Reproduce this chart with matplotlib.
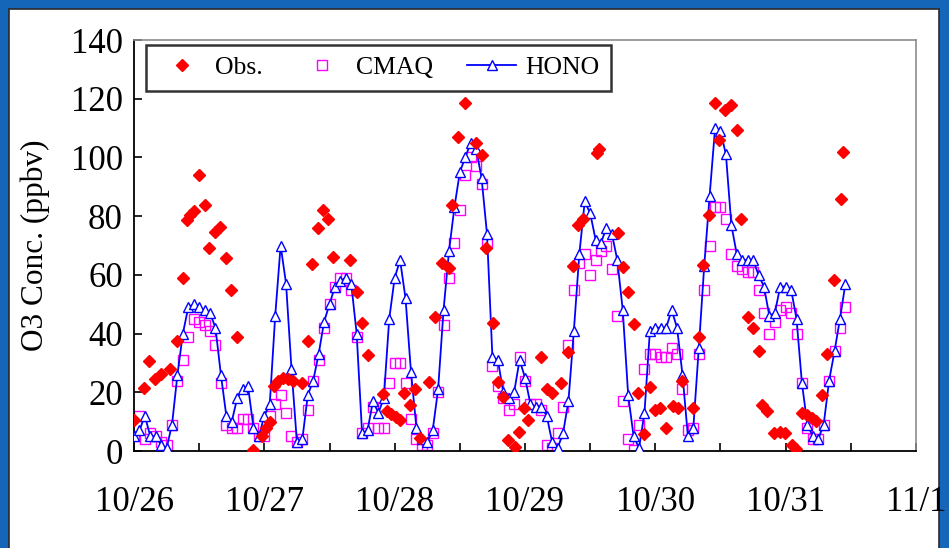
import numpy as np
import matplotlib.pyplot as plt
from matplotlib.patches import Rectangle

# hourly model output, hour 0 = 10/26 00:00
hono = [5, 7, 12, 5, 5, 2, 1, 9, 26, 40, 49, 50, 49, 48, 47, 42, 26, 12, 10, 18, 21, 22, 8, 5,
        12, 16, 46, 70, 57, 28, 3, 4, 19, 24, 33, 44, 50, 56, 58, 59, 57, 40, 6, 7, 17, 13, 18, 45,
        59, 65, 52, 27, 8, 4, 3, 7, 21, 48, 68, 83, 95, 100, 105, 103, 93, 74, 32, 31, 20, 18, 20, 31,
        25, 16, 15, 15, 12, 3, 1, 6, 17, 41, 67, 85, 81, 72, 71, 76, 74, 65, 48, 19, 5, 1, 13, 41,
        42, 42, 42, 48, 42, 26, 5, 8, 35, 63, 87, 110, 109, 101, 77, 67, 65, 65, 65, 60, 56, 46, 47, 56,
        56, 55, 45, 23, 9, 5, 4, 9, 24, 34, 45, 57]
cmaq = [5, 12, 4, 6, 5, 3, 2, 9, 24, 31, 39, 45, 44, 43, 41, 36, 23, 9, 8, 8, 11, 11, 8, 5,
        5, 12, 16, 19, 13, 5, 3, 4, 14, 24, 31, 42, 50, 56, 59, 59, 55, 39, 6, 8, 15, 8, 8, 23,
        30, 30, 23, 11, 4, 2, 2, 6, 20, 43, 59, 71, 82, 94, 100, 97, 91, 71, 29, 22, 18, 14, 16, 32,
        24, 16, 16, 14, 2, 1, 6, 15, 36, 55, 64, 67, 60, 65, 68, 70, 62, 46, 17, 4, 0.5, 9, 28, 33,
        33, 32, 32, 35, 33, 21, 7, 8, 33, 55, 70, 83, 83, 79, 67, 63, 62, 61, 61, 55, 47, 40, 44, 48,
        49, 47, 40, 23, 8, 4, 4, 9, 24, 34, 42, 49]

# observations (hour, ppbv)
obs_t = [0, 1.8, 2.8, 3.95, 5, 6.7, 7.85, 8.95, 9.7, 10.4, 11, 11.95, 13.05, 13.8, 14.9, 15.9, 17, 17.8, 18.9, 21.95,
         23.6, 24.3, 25, 25.7, 26.5, 27.4, 28.3, 29.2, 30.9, 32.1, 32.7, 33.8, 34.8, 35.7, 36.7, 39.8, 41, 41.9, 43,
         45.9, 46.6, 47.4, 48.2, 48.9, 49.8, 50.8, 51.7, 52.7, 54.4, 55.5, 56.8, 58, 58.6, 59.7, 60.9, 62.9, 64.1,
         64.9, 66.1, 67, 68, 68.9, 70.1, 70.9, 71.9, 72.6, 74.9, 76, 77, 78.7, 80, 80.9, 81.8, 82.6, 85.2, 85.7,
         89.1, 90.1, 91, 92.1, 92.8, 94, 95.1, 95.9, 96.8, 98, 99.3, 100.2, 101, 102.9, 104.1, 104.8, 105.9,
         106.9, 107.8, 108.9, 109.9, 111.1, 111.8, 113, 113.9, 115.1, 115.7, 116.6, 117.8, 119, 119.8, 121.1,
         121.9, 123, 123.9, 124.8, 125.6, 126.7, 127.6, 128.9, 130.1, 130.6]
obs_v = [10.6, 21.4, 30.8, 24.4, 26.2, 27.8, 37.6, 58.8, 78.7, 80.4, 81.9, 94, 83.8, 69.3, 74.7, 76.2, 65.9, 54.9, 38.7, 0.3,
         5, 8, 10, 22, 24, 25, 24.5, 24, 23, 37.6, 63.7, 75.9, 82, 79, 66, 65.2, 54, 43.7, 32.7,
         19.5, 13.5, 12.5, 11.5, 10.6, 19.7, 15.7, 21.1, 4.5, 23.6, 45.8, 63.9, 62.2, 83.8, 107.1, 118.7, 105, 100.8,
         69, 43.5, 23.6, 18.5, 3.7, 1.5, 6.6, 14.5, 10.6, 31.9, 21, 19.7, 23, 33.8, 63, 77, 79, 101.4, 103,
         74.2, 62.8, 54.3, 43.3, 19.7, 5.8, 21.7, 14, 14.5, 8, 15.3, 14.5, 24, 14.8, 39, 63.5, 80.5,
         118.5, 106, 116, 118, 109.3, 79, 45.5, 42, 34, 15.6, 13.5, 6, 6.5, 6, 2,
         0.6, 12.8, 12.2, 11.1, 10.3, 19, 33, 58.2, 85.8, 102]

day_labels = ['10/26', '10/27', '10/28', '10/29', '10/30', '10/31', '11/1']

serif = ['Liberation Serif', 'DejaVu Serif']
plt.rcParams['font.family'] = serif

fig = plt.figure(figsize=(9.49, 5.48), dpi=100, facecolor='#1565b8')
# white panel inside the blue frame
fig.patches.append(Rectangle((9 / 949, -0.01), 930 / 949, 1.01 - 9 / 548, transform=fig.transFigure,
                             facecolor='white', edgecolor='#2a2a2a', linewidth=1.2, zorder=-10))

ax = fig.add_axes([134 / 949, 1 - 451 / 548, 782 / 949, 411 / 548])
ax.set_zorder(2)
ax.set_facecolor('white')

t_model = np.arange(len(hono)) / 24.0
ax.plot(t_model, hono, color='#0000ff', lw=1.3, marker='^', ms=7, mfc='white', mec='#0000ff',
        mew=1.0, label='HONO', zorder=3)
ax.plot(t_model, cmaq, ls='none', marker='s', ms=7, mfc='none', mec='#ff00ff', mew=1.0,
        label='CMAQ', zorder=2)
ax.plot(np.array(obs_t) / 24.0, obs_v, ls='none', marker='D', ms=6.5, color='#ff0000', mec='#ff0000',
        label='Obs.', zorder=4)

ax.set_xlim(0, 6)
ax.set_ylim(0, 140)
ax.set_yticks(np.arange(0, 141, 20))
ax.set_xticks(np.arange(0, 6.01, 0.5))
ax.set_xticklabels([day_labels[int(v)] if v == int(v) else '' for v in np.arange(0, 6.01, 0.5)])
ax.tick_params(direction='in', length=6, width=1.2, labelsize=25, pad=8, colors='black')
ax.tick_params(axis='x', pad=25)
for s in ['left', 'bottom']:
    ax.spines[s].set_color('black')
    ax.spines[s].set_linewidth(1.3)
for s in ['top', 'right']:
    ax.spines[s].set_color('#8c8c8c')
    ax.spines[s].set_linewidth(1.2)

ax.set_ylabel('O3 Conc. (ppbv)', fontsize=22.5)
ax.yaxis.set_label_coords(-0.108, 0.5)

h, l = ax.get_legend_handles_labels()
leg = ax.legend([h[2], h[1], h[0]], [l[2], l[1], l[0]], ncol=3, loc='upper left',
                bbox_to_anchor=(0.0153, 0.988), borderaxespad=0, frameon=True, fancybox=False,
                edgecolor='black', handlelength=1.9, columnspacing=1.35, handletextpad=0.35,
                borderpad=0.45, prop={'family': serif, 'size': 18.5})
leg.get_frame().set_linewidth(1.8)

fig.savefig('out.png', dpi=100, facecolor=fig.get_facecolor())
